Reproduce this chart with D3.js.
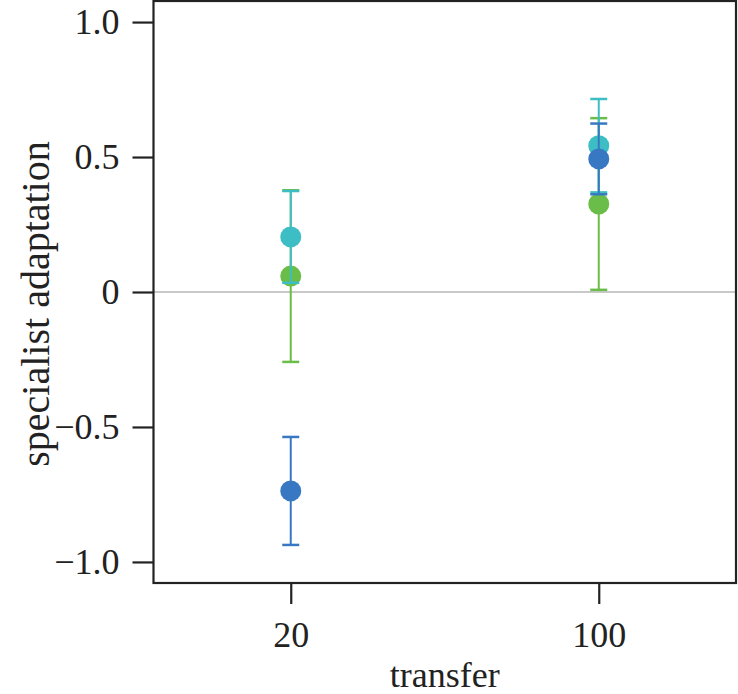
<!DOCTYPE html>
<html>
<head>
<meta charset="utf-8">
<script src="https://cdn.jsdelivr.net/npm/d3@7"></script>
<style>
  html, body { margin: 0; padding: 0; background: #fff; }
  svg { display: block; }
  text { font-family: "Liberation Serif", "Times New Roman", serif; fill: #222; }
</style>
</head>
<body>
<div id="chart"></div>
<script>
// ---- data ----
const categories = ["20", "100"];
const seriesNames = ["green", "cyan", "blue"];           // drawing order
const seriesColors = ["#6abd48", "#3cbec4", "#3878c2"];
const greenMean = [0.059, 0.326];
const greenErr  = [0.318, 0.318];
const cyanMean  = [0.204, 0.542];
const cyanErr   = [0.170, 0.173];
const blueMean  = [-0.737, 0.493];
const blueErr   = [0.200, 0.131];
const yTicks = [-1.0, -0.5, 0, 0.5, 1.0];
const yTickLabels = ["\u22121.0", "\u22120.5", "0", "0.5", "1.0"];
const xLabel = "transfer";
const yLabel = "specialist adaptation";

const means = [greenMean, cyanMean, blueMean];
const errs = [greenErr, cyanErr, blueErr];

// ---- layout ----
const W = 738, H = 694;
const plot = { left: 153.5, right: 736, top: 1, bottom: 583 };

const svg = d3.select("#chart").append("svg")
  .attr("width", W).attr("height", H);

const x = d3.scalePoint().domain(categories)
  .range([plot.left, plot.right]).padding(0.4456);
const y = d3.scaleLinear().domain([-1.078, 1.078])
  .range([plot.bottom, plot.top]);

// zero line
svg.append("line")
  .attr("x1", plot.left).attr("x2", plot.right)
  .attr("y1", y(0)).attr("y2", y(0))
  .attr("stroke", "#c9c9c9").attr("stroke-width", 2.2);

// series
const capHalf = 8.5;
seriesNames.forEach((name, si) => {
  const g = svg.append("g").attr("class", "series-" + name);
  const color = seriesColors[si];
  categories.forEach((c, ci) => {
    const cx = x(c);
    const m = means[si][ci], e = errs[si][ci];
    const y1 = y(m + e), y0 = y(m - e);
    g.append("line").attr("x1", cx).attr("x2", cx).attr("y1", y1).attr("y2", y0)
      .attr("stroke", color).attr("stroke-width", 2);
    g.append("line").attr("x1", cx - capHalf).attr("x2", cx + capHalf).attr("y1", y1).attr("y2", y1)
      .attr("stroke", color).attr("stroke-width", 2.5);
    g.append("line").attr("x1", cx - capHalf).attr("x2", cx + capHalf).attr("y1", y0).attr("y2", y0)
      .attr("stroke", color).attr("stroke-width", 2.5);
    g.append("circle").attr("cx", cx).attr("cy", y(m)).attr("r", 10.5)
      .attr("fill", color);
  });
});

// frame
svg.append("rect")
  .attr("x", plot.left).attr("y", plot.top)
  .attr("width", plot.right - plot.left).attr("height", plot.bottom - plot.top)
  .attr("fill", "none").attr("stroke", "#222").attr("stroke-width", 2.2);

// axes
const yAxis = d3.axisLeft(y).tickValues(yTicks)
  .tickFormat((d, i) => yTickLabels[i]).tickSize(21).tickPadding(13);
const gy = svg.append("g").attr("transform", `translate(${plot.left},0)`).call(yAxis);
gy.select(".domain").remove();
gy.selectAll(".tick line").attr("stroke", "#222").attr("stroke-width", 2.2);
gy.selectAll(".tick text").style("font-family", "'Liberation Serif', serif")
  .style("font-size", "36px").attr("fill", "#222");

const xAxis = d3.axisBottom(x).tickSize(21).tickPadding(17);
const gx = svg.append("g").attr("transform", `translate(0,${plot.bottom})`).call(xAxis);
gx.select(".domain").remove();
gx.selectAll(".tick line").attr("stroke", "#222").attr("stroke-width", 2.2);
gx.selectAll(".tick text").style("font-family", "'Liberation Serif', serif")
  .style("font-size", "36px").attr("fill", "#222");

// axis titles
svg.append("text")
  .attr("x", (plot.left + plot.right) / 2).attr("y", 687)
  .attr("text-anchor", "middle").style("font-size", "36px")
  .text(xLabel);

svg.append("text")
  .attr("transform", `translate(49,${(138 + 470) / 2}) rotate(-90)`)
  .attr("text-anchor", "middle").style("font-size", "40px")
  .text(yLabel);
</script>
</body>
</html>
